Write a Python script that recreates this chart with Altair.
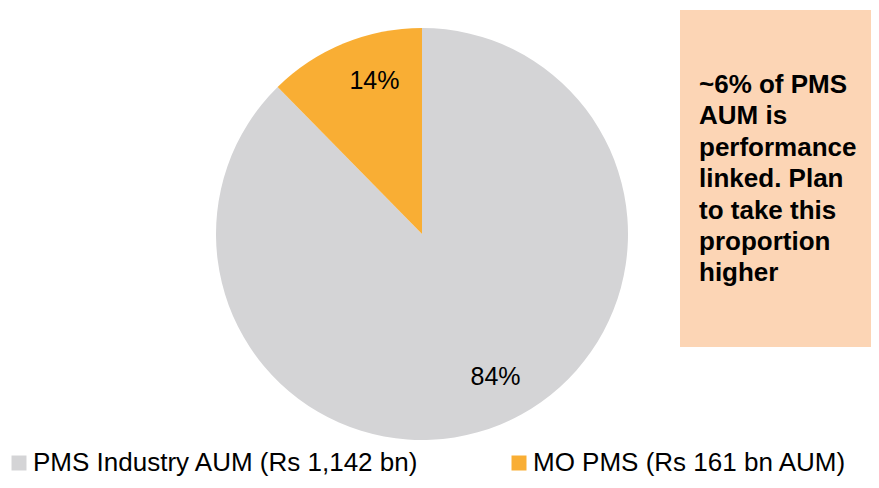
import altair as alt
import pandas as pd

categories = ["PMS Industry AUM (Rs 1,142 bn)", "MO PMS (Rs 161 bn AUM)"]
aum_bn = [1142, 161]
slice_labels = ["84%", "14%"]
slice_order = [0, 1]
colors = ["#D4D4D6", "#F9AE34"]
note_lines = ["~6% of PMS", "AUM is", "performance", "linked. Plan",
              "to take this", "proportion", "higher"]

FONT = "Liberation Sans"

df = pd.DataFrame({"category": categories, "aum": aum_bn,
                   "label": slice_labels, "order": slice_order})

base = alt.Chart(df).encode(
    theta=alt.Theta("aum:Q", stack=True),
    order=alt.Order("order:Q"),
    x=alt.value(414),
    y=alt.value(226),
)

pie = base.mark_arc(radius=206).encode(
    color=alt.Color(
        "category:N",
        scale=alt.Scale(domain=categories, range=colors),
        sort=categories,
        legend=alt.Legend(
            title=None, orient="none", legendX=-2, legendY=442,
            direction="horizontal", symbolType="square", symbolSize=225,
            symbolStrokeWidth=0, labelFont=FONT, labelFontSize=26,
            labelColor="#000000", labelLimit=600, labelOffset=1,
            columnPadding=87, padding=0,
        ),
    )
)

labels = base.mark_text(radius=160, dx=13, dy=-5, font=FONT, fontSize=25,
                        color="#000000").encode(text="label:N")

note_df = pd.DataFrame({"note": ["\n".join(note_lines)]})
box = alt.Chart(note_df).mark_rect(color="#FCD5B5").encode(
    x=alt.value(672), x2=alt.value(863), y=alt.value(2), y2=alt.value(339)
)
note = alt.Chart(note_df).mark_text(
    font=FONT, fontSize=26, fontWeight="bold", align="left", baseline="alphabetic",
    lineBreak="\n", lineHeight=31.4, color="#000000",
).encode(x=alt.value(691), y=alt.value(85), text="note:N")

chart = alt.layer(pie, labels, box, note).properties(
    width=863, height=472, autosize=alt.AutoSizeParams(type="none"), padding=0
).configure_view(stroke=None)

chart.save("out.html", embed_options={"renderer": "svg", "actions": False})
